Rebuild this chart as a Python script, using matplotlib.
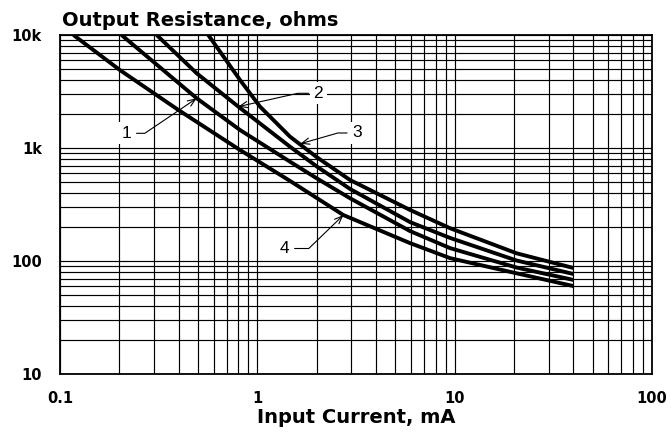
"""Output resistance vs input current, four curves on log-log grid paper."""
import matplotlib
matplotlib.use("Agg")
import matplotlib.pyplot as plt
from matplotlib.ticker import FixedLocator, LogLocator, NullFormatter

# ---- data (mA, ohms) ----
current_1 = [0.205, 0.493, 0.817, 1.465, 2.0, 2.95, 5.94, 9.48, 20.6, 40]
res_1 = [10000, 2754, 1443, 756, 539, 359, 184, 130, 87.5, 68]

current_2 = [0.309, 0.493, 0.801, 1.465, 2.0, 2.95, 5.94, 9.48, 20.6, 40]
res_2 = [10000, 4580, 2323, 1026, 687, 434, 221, 160, 101, 76.7]

current_3 = [0.564, 0.817, 1.032, 1.465, 2.0, 2.95, 5.94, 9.48, 20.6, 40]
res_3 = [10000, 4000, 2323, 1259, 830, 521, 283, 195, 117, 86.7]

current_4 = [0.117, 0.201, 0.398, 0.817, 1.465, 2.0, 2.73, 5.94, 9.48, 20.6, 40]
res_4 = [10000, 4900, 2170, 960, 511, 361, 255, 144, 106, 77.8, 60]

curves = [(current_1, res_1), (current_2, res_2), (current_3, res_3), (current_4, res_4)]

x_ticks = [0.1, 1, 10, 100]
x_tick_labels = ["0.1", "1", "10", "100"]
y_ticks = [10, 100, 1000, 10000]
y_tick_labels = ["10", "100", "1k", "10k"]

# curve labels: text, arrow tip (on curve), text position, leader angle (deg)
curve_labels = [
    ("1", (0.493, 2754), (0.218, 1349), 34),
    ("2", (0.80, 2323), (2.04, 3048), 12.6),
    ("3", (1.65, 1090), (3.19, 1358), 16),
    ("4", (2.73, 255), (1.38, 129), 44),
]

W, H = 671, 433
fig = plt.figure(figsize=(W / 100, H / 100), dpi=100)
ax = fig.add_axes([60 / W, 1 - 374 / H, 592 / W, 339 / H])

for x, y in curves:
    ax.plot(x, y, color="black", lw=2.8, solid_capstyle="butt",
            solid_joinstyle="round", zorder=3)

ax.set_xscale("log")
ax.set_yscale("log")
ax.set_xlim(0.1, 100)
ax.set_ylim(10, 10000)

ax.xaxis.set_major_locator(FixedLocator(x_ticks))
ax.yaxis.set_major_locator(FixedLocator(y_ticks))
ax.set_xticklabels(x_tick_labels)
ax.set_yticklabels(y_tick_labels)
ax.xaxis.set_minor_locator(LogLocator(base=10, subs=range(2, 10)))
ax.yaxis.set_minor_locator(LogLocator(base=10, subs=range(2, 10)))
ax.xaxis.set_minor_formatter(NullFormatter())
ax.yaxis.set_minor_formatter(NullFormatter())

ax.grid(True, which="both", color="black", lw=0.85)
ax.set_axisbelow(True)
ax.tick_params(which="both", length=0)
ax.tick_params(axis="y", pad=13)
ax.tick_params(axis="x", pad=12)
for lab in ax.get_xticklabels() + ax.get_yticklabels():
    lab.set_fontfamily("DejaVu Sans")
    lab.set_fontweight("bold")
    lab.set_fontsize(10.5)
for sp in ax.spines.values():
    sp.set_linewidth(1.3)
    sp.set_color("black")

ax.set_xlabel("Input Current, mA", fontsize=14, fontweight="bold",
              family="DejaVu Sans", labelpad=2)
fig.text(62 / W, 1 - 20 / H, "Output Resistance, ohms", fontsize=14,
         fontweight="bold", family="DejaVu Sans", ha="left", va="center")

for txt, tip, pos, ang in curve_labels:
    ax.annotate(
        txt, xy=tip, xytext=pos, fontsize=12.5, family="Liberation Sans",
        ha="center", va="center", zorder=5,
        bbox=dict(boxstyle="square,pad=0.2", fc="white", ec="none"),
        arrowprops=dict(arrowstyle="->,head_length=0.45,head_width=0.18",
                        lw=0.8, color="black", shrinkA=1, shrinkB=0,
                        connectionstyle=f"angle,angleA=0,angleB={ang},rad=0"),
    )

fig.savefig("out.png", dpi=100)
